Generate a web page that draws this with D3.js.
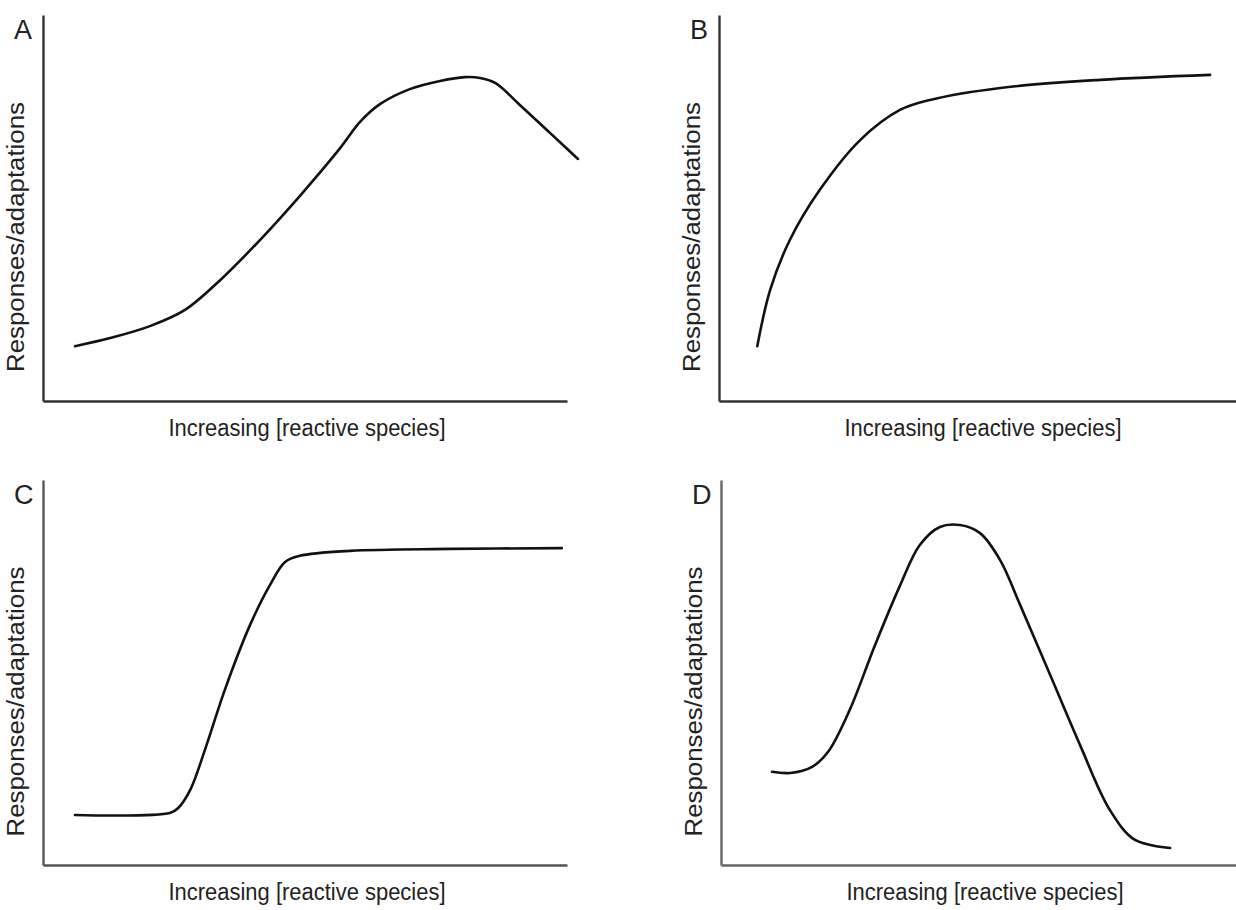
<!DOCTYPE html>
<html>
<head>
<meta charset="utf-8">
<script src="https://cdn.jsdelivr.net/npm/d3@7"></script>
<style>
  body { margin: 0; background: #fff; }
  text { font-family: "Liberation Sans", Arial, sans-serif; fill: #222; }
</style>
</head>
<body>
<svg id="chart" width="1236" height="910"></svg>
<script>
// --- Data (x, y in 0-100 units of each panel) ---
const panelLetters = ["A", "B", "C", "D"];
const xLabel = "Increasing [reactive species]";
const yLabel = "Responses/adaptations";

const curveA = [[6.1, 14.2], [12.8, 16.3], [20.4, 19.4], [27.1, 23.6], [33.8, 31.3],
  [41.4, 41.7], [49.0, 53.1], [56.7, 65.5], [60.5, 72.3], [64.3, 76.9], [70.0, 80.8],
  [75.8, 82.9], [80.5, 83.9], [83.4, 83.7], [86.3, 82.4], [91.0, 76.7], [96.8, 69.4],
  [102.1, 62.7]];
const curveB = [[7.4, 14.2], [9.9, 28.8], [13.7, 41.7], [19.5, 54.7], [27.3, 67.6],
  [35.0, 75.4], [40.8, 78.0], [54.4, 81.1], [73.7, 83.2], [95.0, 84.5]];
const curveC = [[6.1, 13.0], [24.2, 13.5], [25.8, 14.8], [28.1, 19.5], [30.9, 29.9],
  [34.7, 45.5], [39.5, 62.3], [43.3, 72.7], [46.2, 78.7], [49.0, 80.3], [58.6, 81.6],
  [77.7, 82.1], [99.0, 82.3]];
const curveD = [[9.9, 24.2], [13.4, 23.9], [17.7, 25.5], [20.8, 29.4], [25.0, 40.3],
  [29.9, 57.1], [34.8, 72.7], [38.6, 83.1], [42.5, 87.8], [46.4, 88.3], [50.3, 86.2],
  [54.2, 79.2], [58.1, 67.5], [63.9, 49.4], [69.7, 31.2], [75.5, 14.3], [80.4, 6.5],
  [87.2, 4.4]];
const curves = [curveA, curveB, curveC, curveD];

// --- Panel layout (pixel frame of each axis box) ---
const frames = [
  { left: 43,  right: 567,  top: 15,  bottom: 401, axisColor: "#333" },
  { left: 719, right: 1236, top: 15,  bottom: 401, axisColor: "#333" },
  { left: 43,  right: 567,  top: 480, bottom: 865, axisColor: "#555" },
  { left: 721, right: 1236, top: 480, bottom: 865, axisColor: "#666" }
];

const svg = d3.select("#chart");

frames.forEach((f, i) => {
  const x = d3.scaleLinear().domain([0, 100]).range([f.left, f.right]);
  const y = d3.scaleLinear().domain([0, 100]).range([f.bottom, f.top]);
  const g = svg.append("g");

  // axes: just the domain lines, no ticks
  g.append("g")
    .attr("transform", `translate(0,${f.bottom})`)
    .call(d3.axisBottom(x).tickValues([]).tickSizeOuter(0))
    .select(".domain")
    .attr("stroke", f.axisColor)
    .attr("stroke-width", 2.4);

  g.append("g")
    .attr("transform", `translate(${f.left},0)`)
    .call(d3.axisLeft(y).tickValues([]).tickSizeOuter(0))
    .select(".domain")
    .attr("stroke", f.axisColor)
    .attr("stroke-width", 2.4);

  // the curve
  const line = d3.line()
    .x(d => x(d[0]))
    .y(d => y(d[1]))
    .curve(d3.curveCatmullRom.alpha(0.5));

  g.append("path")
    .datum(curves[i])
    .attr("d", line)
    .attr("fill", "none")
    .attr("stroke", "#111")
    .attr("stroke-width", 2.6)
    .attr("stroke-linecap", "round");

  // panel letter
  g.append("text")
    .attr("x", f.left - 29)
    .attr("y", f.top + 24)
    .style("font-size", "27px")
    .text(panelLetters[i]);

  // x label
  g.append("text")
    .attr("x", f.left + 264)
    .attr("y", f.bottom + 35)
    .attr("text-anchor", "middle")
    .attr("textLength", 277)
    .attr("lengthAdjust", "spacingAndGlyphs")
    .style("font-size", "23px")
    .text(xLabel);

  // y label
  const cy = (f.top + f.bottom) / 2 + 29;
  g.append("text")
    .attr("transform", `translate(${f.left - 19},${cy}) rotate(-90)`)
    .attr("text-anchor", "middle")
    .attr("textLength", 270)
    .attr("lengthAdjust", "spacingAndGlyphs")
    .style("font-size", "23px")
    .text(yLabel);
});
</script>
</body>
</html>
